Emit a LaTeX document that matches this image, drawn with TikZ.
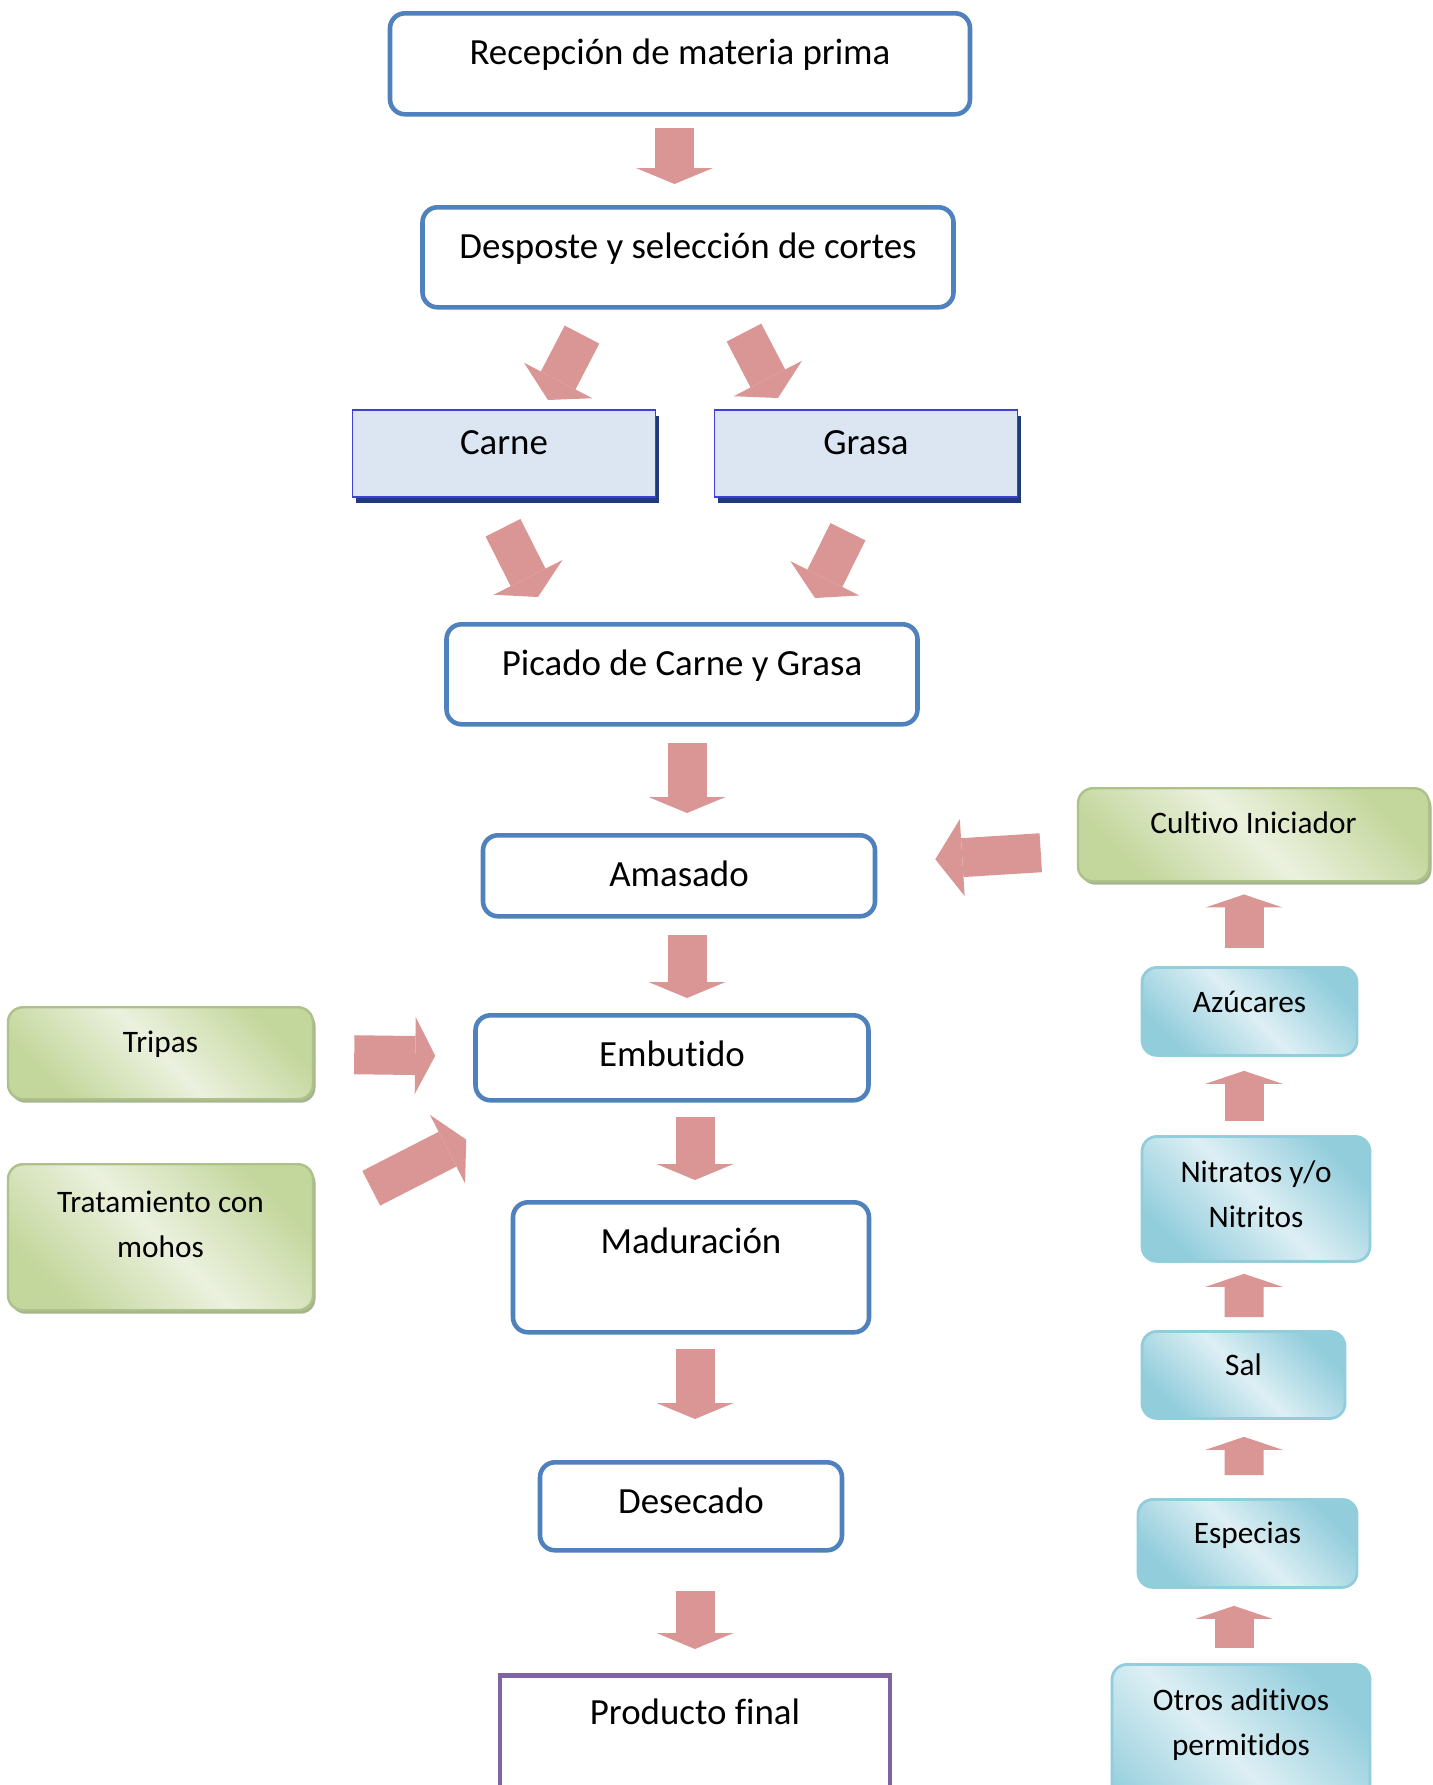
\documentclass[tikz,border=0pt]{standalone}
\usepackage{fontspec}
\setmainfont{Carlito}[Ligatures={NoCommon,NoContextual}, Contextuals=NoAlternate]
\usepackage{xcolor}
\usetikzlibrary{arrows.meta, shadows}
\definecolor{azulborde}{HTML}{4F81BD}
\definecolor{rosa}{HTML}{D99694}
\definecolor{morado}{HTML}{8064A2}
\definecolor{celeste}{HTML}{DCE6F2}
\definecolor{violeta}{HTML}{4040D8}
\definecolor{marino}{HTML}{1F3A7A}
\definecolor{verdeosc}{HTML}{C3D69B}
\definecolor{verdecla}{HTML}{EBF1DE}
\definecolor{verdesom}{HTML}{A6B68C}
\definecolor{aguaosc}{HTML}{92CDDC}
\definecolor{aguacla}{HTML}{DDEFF4}

\begin{document}
\begin{tikzpicture}[
    x=0.1mm, y=-0.1mm,
    paso/.style={draw=azulborde, line width=1.3pt, rounded corners=1.5mm, fill=white, anchor=north, inner sep=0pt, align=center, font=\fontsize{10.5}{13}\selectfont, text height=5.1mm},
    grupo/.style={draw=violeta, line width=0.5pt, fill=celeste, anchor=north, inner sep=0pt, font=\fontsize{10.5}{13}\selectfont, text height=4.5mm, drop shadow={shadow xshift=0.3mm, shadow yshift=-0.6mm, fill=marino, opacity=1}},
    insumo/.style={draw=verdeosc!90!black, line width=0.7pt, rounded corners=1.5mm, top color=verdeosc, bottom color=verdeosc, middle color=verdecla, shading angle=-45, anchor=north, inner sep=0pt, align=center, font=\fontsize{8.9}{12.6}\selectfont, text height=4.5mm, drop shadow={shadow xshift=0.25mm, shadow yshift=-0.35mm, fill=verdesom, opacity=1}},
    aditivo/.style={draw=aguaosc, line width=0.8pt, rounded corners=1.5mm, top color=aguaosc, bottom color=aguaosc, middle color=aguacla, shading angle=-45, anchor=north, inner sep=0pt, align=center, font=\fontsize{8.9}{12.8}\selectfont, text height=4.45mm},
    fl/.style={draw=rosa, line width=3.9mm, -{Triangle[width=7.7mm, length=#1, line width=0pt]}},
    fl/.default=1.6mm
  ]
  \useasboundingbox (0,0) rectangle (1432,1785);
  \clip (0,0) rectangle (1432,1785);

  \node[paso, minimum width=58mm, text depth=5.0mm] (recep) at (680,11) {Recepción de materia prima};
  \node[paso, minimum width=53.1mm, text depth=4.9mm] (desposte) at (688,205) {Desposte y selección de cortes};
  \node[grupo, minimum width=30.3mm, text depth=4.2mm] (carne) at (504,409) {Carne};
  \node[grupo, minimum width=30.3mm, text depth=4.2mm] (grasa) at (866,409) {Grasa};
  \node[paso, minimum width=47.1mm, text depth=4.9mm] (picado) at (682,622) {Picado de Carne y Grasa};
  \node[paso, minimum width=39.2mm, text depth=3.0mm] (amasado) at (679,833) {Amasado};
  \node[paso, minimum width=39.3mm, text depth=3.4mm] (embutido) at (672,1013) {Embutido};
  \node[paso, minimum width=35.6mm, text depth=7.9mm] (maduracion) at (691,1200) {Maduración};
  \node[paso, minimum width=30.2mm, text depth=3.7mm] (desecado) at (691,1460) {Desecado};
  \node[paso, draw=morado, sharp corners, minimum width=39mm, text depth=15mm, text height=4.9mm] (producto) at (695,1673) {Producto final};

  \node[insumo, minimum width=35.1mm, text depth=4.8mm] (cultivo) at (1253.5,787) {Cultivo Iniciador};
  \node[insumo, minimum width=30.5mm, text depth=4.7mm] (tripas) at (160.5,1006) {Tripas};
  \node[insumo, minimum width=30.5mm, text depth=5.3mm, text height=9.3mm] (mohos) at (160.5,1163) {Tratamiento con\\mohos};

  \node[aditivo, minimum width=21.5mm, text depth=4.3mm, text height=4.5mm] (azucares) at (1249.5,966) {Azúcares};
  \node[aditivo, minimum width=22.8mm, text depth=3.35mm, text height=9.15mm] (nitratos) at (1256,1135) {Nitratos y/o\\Nitritos};
  \node[aditivo, minimum width=20.3mm, text depth=4.25mm] (sal) at (1243.5,1330) {Sal};
  \node[aditivo, minimum width=21.9mm, text depth=4.35mm] (especias) at (1247.5,1498) {Especias};
  \node[aditivo, minimum width=25.8mm, text depth=10.9mm, text height=9.1mm] (otros) at (1241,1663) {Otros aditivos\\permitidos};

  \draw[fl] ([shift={(-5.5,11)}]recep.south) -- ([shift={(-13.5,-21)}]desposte.north);
  \draw[fl=2.2mm] ([shift={(-106,25)}]desposte.south) -- ([shift={(44,-9)}]carne.north);
  \draw[fl=2.2mm] ([shift={(56,23)}]desposte.south) -- ([shift={(-88,-11)}]grasa.north);
  \draw[fl=2.2mm] ([shift={(-1,30)}]carne.south) -- ([shift={(-144,-25)}]picado.north);
  \draw[fl=2.2mm] ([shift={(-18,34)}]grasa.south) -- ([shift={(133,-24)}]picado.north);
  \draw[fl] ([shift={(5,16)}]picado.south) -- ([shift={(8,-20)}]amasado.north);
  \draw[fl=2.7mm] ([shift={(-36,18)}]cultivo.west) -- ([shift={(58,-16.5)}]amasado.east);
  \draw[fl] ([shift={(8,16)}]amasado.south) -- ([shift={(15,-15)}]embutido.north);
  \draw[fl=2.0mm] ([shift={(40,1.5)}]tripas.east) -- ([shift={(-38,-2)}]embutido.west);
  \draw[fl=2.1mm] ([shift={(57,-49)}]mohos.east) -- ([shift={(-7,37)}]embutido.south west);
  \draw[fl] ([shift={(23,14)}]embutido.south) -- ([shift={(4,-20)}]maduracion.north);
  \draw[fl] ([shift={(4,14)}]maduracion.south) -- ([shift={(4,-41)}]desecado.north);
  \draw[fl] ([shift={(4,38)}]desecado.south) -- ([shift={(0,-24)}]producto.north);

  \draw[fl=1.3mm] ([shift={(-5.5,-18)}]azucares.north) -- ([shift={(-9.5,12)}]cultivo.south);
  \draw[fl=1.3mm] ([shift={(-12,-14)}]nitratos.north) -- ([shift={(-5.5,14)}]azucares.south);
  \draw[fl=1.3mm] ([shift={(0.5,-13)}]sal.north) -- ([shift={(-12,11)}]nitratos.south);
  \draw[fl=1.3mm] ([shift={(-3.5,-23)}]especias.north) -- ([shift={(0.5,17)}]sal.south);
  \draw[fl=1.3mm] ([shift={(-7,-15)}]otros.north) -- ([shift={(-13.5,17)}]especias.south);
\end{tikzpicture}
\end{document}
